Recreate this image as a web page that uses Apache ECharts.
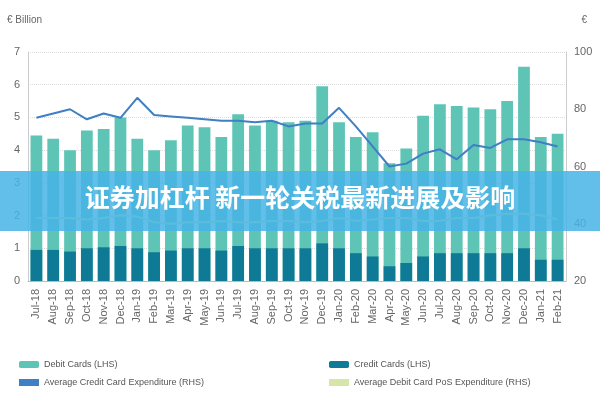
<!DOCTYPE html><html><head><meta charset="utf-8"><script src="https://cdn.jsdelivr.net/npm/echarts@6/dist/echarts.min.js"></script>
<style>html,body{margin:0;padding:0;background:#fff}#c{width:600px;height:400px}</style></head><body><div id="c"></div><script>
const categories=['Jul-18','Aug-18','Sep-18','Oct-18','Nov-18','Dec-18','Jan-19','Feb-19','Mar-19','Apr-19','May-19','Jun-19','Jul-19','Aug-19','Sep-19','Oct-19','Nov-19','Dec-19','Jan-20','Feb-20','Mar-20','Apr-20','May-20','Jun-20','Jul-20','Aug-20','Sep-20','Oct-20','Nov-20','Dec-20','Jan-21','Feb-21'];
const debitCards=[4.45,4.35,4.0,4.6,4.65,5.0,4.35,4.0,4.3,4.75,4.7,4.4,5.1,4.75,4.9,4.85,4.9,5.95,4.85,4.4,4.55,3.6,4.05,5.05,5.4,5.35,5.3,5.25,5.5,6.55,4.4,4.5];
const creditCards=[0.95,0.95,0.9,1.0,1.03,1.07,1.0,0.88,0.93,1.0,1.0,0.93,1.07,1.0,1.0,1.0,1.0,1.15,1.0,0.85,0.75,0.45,0.55,0.75,0.85,0.85,0.85,0.85,0.85,1.0,0.65,0.65];
const avgCredit=[77,78.5,80,76.5,78.5,77,84,78,77.5,77,76.5,76,76,75.5,76,74,75,75,80.5,74,67,60,61,64.5,66,62.5,67.5,66.5,69.5,69.5,68.5,67];
const avgDebitPos=[42,42,42,41.5,42,43,42.5,40.5,40,40.5,40.5,41,40.5,40.5,41,41,40.5,41,42,41,41.5,42,42,41,41,42,42,43,43.5,43.5,43,41.5];
const c=echarts.init(document.getElementById('c'));
const ax={fontFamily:'Liberation Sans',fontSize:11,color:'#666'};
const lg={orient:'vertical',bottom:8,itemWidth:20,itemHeight:7,itemGap:9,textStyle:{fontSize:9,color:'#555'}};
c.setOption({animation:false,
grid:{left:28,right:34,top:52,bottom:119},
title:[{text:'€ Billion',left:2,top:10,textStyle:{fontSize:10,fontWeight:'normal',color:'#666'}},{text:'€',right:8,top:10,textStyle:{fontSize:10,fontWeight:'normal',color:'#666'}}],
legend:[Object.assign({left:14,data:[{name:'Debit Cards (LHS)'},{name:'Average Credit Card Expenditure (RHS)',icon:'rect',itemStyle:{color:'#3f7fc4'}}]},lg),
 Object.assign({left:324,data:[{name:'Credit Cards (LHS)'},{name:'Average Debit Card PoS Expenditure (RHS)',icon:'rect',itemStyle:{color:'#d6e6a8'}}]},lg)],
xAxis:{type:'category',data:categories,axisLabel:Object.assign({rotate:90,interval:0},ax),axisTick:{show:false},axisLine:{lineStyle:{color:'#bbb'}}},
yAxis:[{type:'value',min:0,max:7,interval:1,axisLabel:ax,splitLine:{lineStyle:{color:'#ddd',type:'dotted'}},axisLine:{show:true,lineStyle:{color:'#ccc'}}},
 {type:'value',min:20,max:100,interval:20,axisLabel:ax,splitLine:{show:false},axisLine:{show:true,lineStyle:{color:'#ccc'}}}],
series:[
 {name:'Debit Cards (LHS)',type:'bar',data:debitCards,barWidth:'70%',itemStyle:{color:'#5ec4b6'}},
 {name:'Credit Cards (LHS)',type:'bar',data:creditCards,barWidth:'70%',barGap:'-100%',itemStyle:{color:'#0e7a96'}},
 {name:'Average Credit Card Expenditure (RHS)',type:'line',yAxisIndex:1,data:avgCredit,symbol:'none',lineStyle:{color:'#3f7fc4',width:2},itemStyle:{color:'#3f7fc4'}},
 {name:'Average Debit Card PoS Expenditure (RHS)',type:'line',yAxisIndex:1,data:avgDebitPos,symbol:'none',lineStyle:{color:'#d6e6a8',width:2},itemStyle:{color:'#d6e6a8'}}
],
graphic:[{type:'rect',left:0,top:171,shape:{width:600,height:60},style:{fill:'rgba(70,180,230,0.85)'},z:100},
 {type:'text',left:'center',top:185,style:{text:'证券加杠杆 新一轮关税最新进展及影响',fill:'#fff',font:'bold 25px "Noto Sans CJK SC"'},z:101}]
});
</script></body></html>
